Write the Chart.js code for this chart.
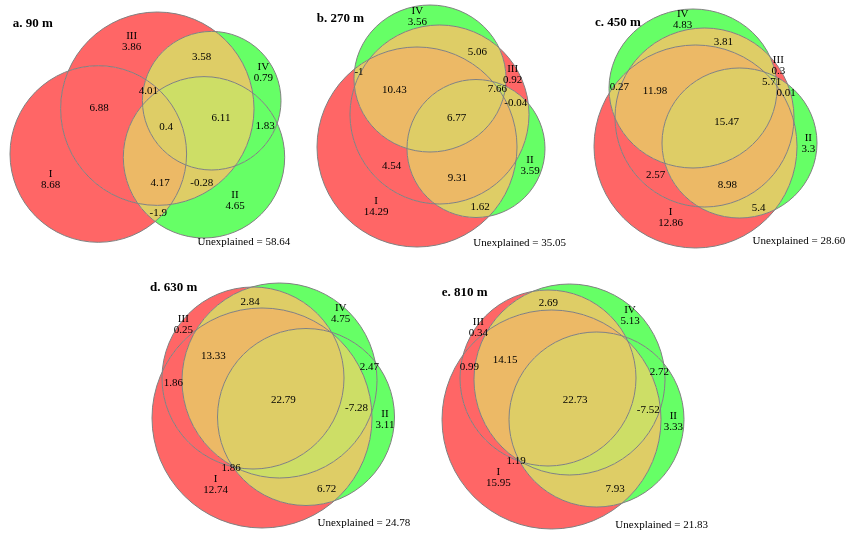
<!DOCTYPE html>
<html>
<head>
<meta charset="utf-8">
<script src="https://cdn.jsdelivr.net/npm/chart.js@4.4.1/dist/chart.umd.min.js"></script>
<style>
  html, body { margin: 0; padding: 0; background: #ffffff; }
  canvas { display: block; }
</style>
</head>
<body>
<canvas id="venn" width="846" height="537"></canvas>
<script>
// Variance partitioning among four explanatory groups (I-IV) at five distances.

const panelTitles = ['a. 90 m', 'b. 270 m', 'c. 450 m', 'd. 630 m', 'e. 810 m'];
const groups = ['I', 'II', 'III', 'IV'];
const unexplained = [58.64, 35.05, 28.60, 24.78, 21.83];

// fractions of each panel, keyed by the groups that share them
const keysA = ['I', 'II', 'III', 'IV', 'I+III', 'III+IV', 'I+III+IV', 'I+II+III+IV', 'II+III+IV', 'II+IV', 'I+II+III', 'II+III', 'I+II'];
const valuesA = [8.68, 4.65, 3.86, 0.79, 6.88, 3.58, 4.01, 0.4, 6.11, 1.83, 4.17, -0.28, -1.9];

const keysB = ['I', 'II', 'III', 'IV', 'I+IV', 'I+III+IV', 'III+IV', 'II+III+IV', 'II+III', 'I+II+III+IV', 'I+III', 'I+II+III', 'I+II'];
const valuesB = [14.29, 3.59, 0.92, 3.56, -1, 10.43, 5.06, 7.66, -0.04, 6.77, 4.54, 9.31, 1.62];

const keysC = ['I', 'II', 'III', 'IV', 'III+IV', 'II+III+IV', 'II+III', 'I+IV', 'I+III+IV', 'I+II+III+IV', 'I+III', 'I+II+III', 'I+II'];
const valuesC = [12.86, 3.3, 0.3, 4.83, 3.81, 5.71, 0.01, 0.27, 11.98, 15.47, 2.57, 8.98, 5.4];

const keysD = ['I', 'II', 'III', 'IV', 'III+IV', 'I+III+IV', 'I+III', 'II+IV', 'I+II+III+IV', 'I+II+IV', 'I+II+III', 'I+II'];
const valuesD = [12.74, 3.11, 0.25, 4.75, 2.84, 13.33, 1.86, 2.47, 22.79, -7.28, 1.86, 6.72];

const keysE = ['I', 'II', 'III', 'IV', 'III+IV', 'I+III+IV', 'I+III', 'II+IV', 'I+II+III+IV', 'I+II+IV', 'I+II+III', 'I+II'];
const valuesE = [15.95, 3.33, 0.34, 5.13, 2.69, 14.15, 0.99, 2.72, 22.73, -7.52, 1.19, 7.93];

const panelKeys = [keysA, keysB, keysC, keysD, keysE];
const panelValues = [valuesA, valuesB, valuesC, valuesD, valuesE];

// ---- layout (page units, y downwards) ----
// ellipse per group in order I, II, III, IV : [cx, cy, rx, ry]
const shapeLayout = [
  [[98.3, 154, 88.3, 88.3], [204, 157.3, 80.7, 80.7], [157.3, 108.7, 96.7, 96.7], [211.7, 100.7, 69.3, 69.3]],
  [[417, 147, 100, 100], [476, 148.5, 69, 69], [439.5, 114.5, 89.5, 89.5], [430, 78.5, 76, 73.5]],
  [[695.5, 146.5, 101.5, 101.5], [739.5, 143, 77.5, 75], [704.5, 117.5, 89.5, 89.5], [693, 88.5, 84, 79.5]],
  [[262, 418, 110, 110], [306, 417, 88.5, 88.5], [253, 378, 91, 91], [279.5, 380.5, 97.5, 97.5]],
  [[551.5, 419.5, 109.5, 109.5], [596.5, 419.5, 87.5, 87.5], [548, 378, 88, 88], [569.5, 379.5, 95.5, 95.5]]
];
// anchor of each fraction label (centre of the value line)
const labelLayout = [
  [[50.7, 185], [235, 205.7], [131.7, 46.7], [263.3, 78.3], [99, 108.3], [201.7, 56.7], [148.3, 90.7],
   [166, 126.7], [221, 118.3], [265, 126], [160, 182.7], [201.7, 183.3], [158.3, 212.7]],
  [[376, 211.7], [530, 171.3], [512.7, 80], [417.3, 22], [359, 71.7], [394.3, 90], [477.3, 52.3],
   [497.3, 89], [515.7, 102.7], [456.7, 118.3], [391.7, 166], [457.3, 178.3], [480, 206.7]],
  [[670.5, 222.7], [808.3, 149.3], [778.3, 70.7], [682.7, 25], [723.3, 41.7], [771.7, 81.7], [786, 93.3],
   [619.3, 87.3], [655, 91], [726.7, 122.3], [655.7, 175], [727.3, 185], [758.7, 208.3]],
  [[215.7, 490], [385, 425], [183.3, 330], [340.7, 319], [250, 301.7], [213.3, 356], [173.3, 383.3],
   [369.3, 366.7], [283.3, 400], [356.5, 408.3], [231, 467.7], [326.7, 489.3]],
  [[498.3, 483.3], [673.3, 427.3], [478.3, 333.3], [630, 320.7], [548.3, 303.3], [505, 360], [469.3, 366.7],
   [659.3, 371.7], [575, 400], [648.3, 410], [516, 460.7], [615, 489]]
];
const titleLayout = [[12.7, 23.3], [316.7, 18.3], [595, 22.7], [150, 287.3], [441.7, 292.3]];
const residualLayout = [[243.8, 241.7], [519.7, 242.7], [798.8, 240.7], [363.8, 522.7], [661.7, 525]];
const nameGap = 11;

// ---- styles ----
const groupTone = ['red', 'green', 'red', 'green'];
const toneFill = {
  red: '#FF6666',
  green: '#66FF66',
  even: '#DECD66',
  redHeavy: '#ECB966',
  greenHeavy: '#CDDE66'
};
const outlineColor = '#808080';
const labelFont = '11px "Liberation Serif", "Times New Roman", serif';
const titleFont = 'bold 13px "Liberation Serif", "Times New Roman", serif';

function mixedFill(red, green) {
  if (green === 0) return toneFill.red;
  if (red === 0) return toneFill.green;
  if (red === green) return toneFill.even;
  return red > green ? toneFill.redHeavy : toneFill.greenHeavy;
}

function pixelShapes(chart, pi) {
  const xs = chart.scales.x, ys = chart.scales.y;
  return shapeLayout[pi].map(([cx, cy, rx, ry]) => {
    const px = xs.getPixelForValue(cx), py = ys.getPixelForValue(cy);
    return {
      cx: px, cy: py,
      rx: Math.abs(xs.getPixelForValue(cx + rx) - px),
      ry: Math.abs(ys.getPixelForValue(cy + ry) - py)
    };
  });
}

function tracePath(ctx, s) {
  ctx.moveTo(s.cx + s.rx, s.cy);
  ctx.ellipse(s.cx, s.cy, s.rx, s.ry, 0, 0, Math.PI * 2);
}

const vennPlugin = {
  id: 'vennRegions',
  beforeDatasetsDraw(chart) {
    const ctx = chart.ctx;
    const W = chart.width, H = chart.height;
    shapeLayout.forEach((_, pi) => {
      const shapes = pixelShapes(chart, pi);
      // every combination of overlapping groups gets its own mixed colour
      for (let mask = 1; mask < 16; mask++) {
        let red = 0, green = 0;
        ctx.save();
        shapes.forEach((s, i) => {
          ctx.beginPath();
          if (mask & (1 << i)) {
            tracePath(ctx, s);
            ctx.clip();
            if (groupTone[i] === 'red') red++; else green++;
          } else {
            ctx.rect(0, 0, W, H);
            tracePath(ctx, s);
            ctx.clip('evenodd');
          }
        });
        ctx.fillStyle = mixedFill(red, green);
        ctx.fillRect(0, 0, W, H);
        ctx.restore();
      }
      ctx.save();
      ctx.strokeStyle = outlineColor;
      ctx.lineWidth = 1;
      shapes.forEach(s => { ctx.beginPath(); tracePath(ctx, s); ctx.stroke(); });
      ctx.restore();
    });
  },
  afterDatasetsDraw(chart) {
    const ctx = chart.ctx;
    const xs = chart.scales.x, ys = chart.scales.y;
    ctx.save();
    ctx.fillStyle = '#000000';
    ctx.textAlign = 'center';
    ctx.textBaseline = 'middle';
    ctx.font = labelFont;
    panelValues.forEach((vals, pi) => {
      const meta = chart.getDatasetMeta(pi);
      vals.forEach((v, j) => {
        const pt = meta.data[j];
        const key = panelKeys[pi][j];
        ctx.fillText(String(v), pt.x, pt.y);
        if (groups.includes(key)) ctx.fillText(key, pt.x, pt.y - nameGap);
      });
      const [ux, uy] = residualLayout[pi];
      ctx.fillText('Unexplained = ' + unexplained[pi].toFixed(2), xs.getPixelForValue(ux), ys.getPixelForValue(uy));
    });
    ctx.font = titleFont;
    ctx.textAlign = 'left';
    panelTitles.forEach((t, pi) => {
      const [tx, ty] = titleLayout[pi];
      ctx.fillText(t, xs.getPixelForValue(tx), ys.getPixelForValue(ty));
    });
    ctx.restore();
  }
};

new Chart(document.getElementById('venn'), {
  type: 'scatter',
  data: {
    datasets: panelValues.map((vals, pi) => ({
      label: panelTitles[pi],
      data: vals.map((v, j) => ({ x: labelLayout[pi][j][0], y: labelLayout[pi][j][1], v })),
      pointRadius: 0,
      pointHoverRadius: 0
    }))
  },
  options: {
    responsive: false,
    devicePixelRatio: 1,
    animation: false,
    events: [],
    layout: { padding: 0 },
    plugins: { legend: { display: false }, tooltip: { enabled: false } },
    scales: {
      x: { type: 'linear', min: 0, max: 846, display: false },
      y: { type: 'linear', min: 0, max: 537, reverse: true, display: false }
    }
  },
  plugins: [vennPlugin]
});
</script>
</body>
</html>
